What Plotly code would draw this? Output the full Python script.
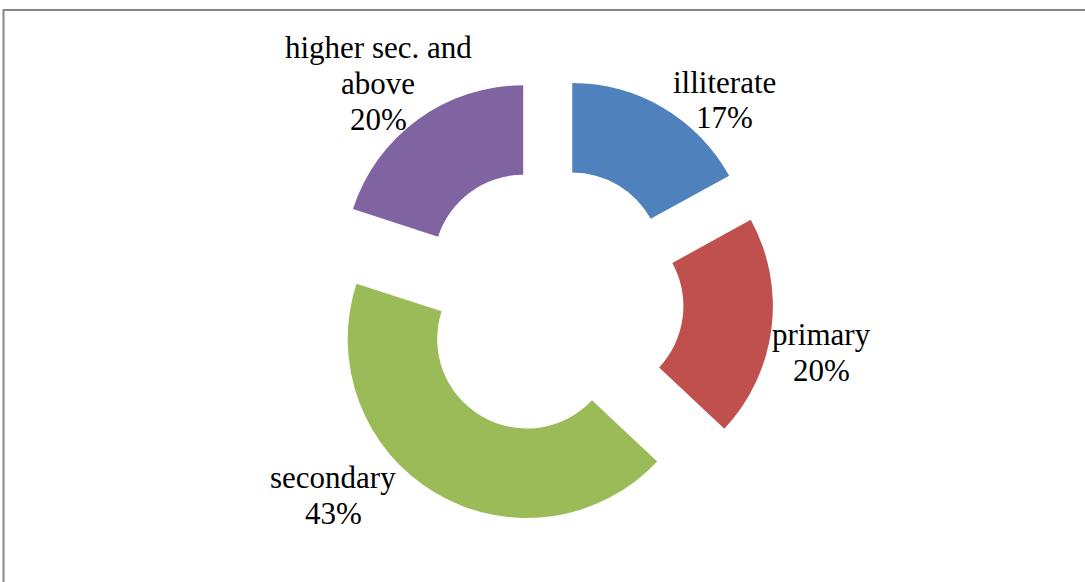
import textwrap
import plotly.graph_objects as go

# Education level shares (percent)
categories = ["illiterate", "primary", "secondary", "higher sec. and above"]
shares = [17, 20, 43, 20]
colors = ["#4F81BD", "#C0504D", "#9BBB59", "#8064A2"]

# Label placement in pixels: (centre x, first-line baseline y)
label_pos = [(724, 92), (821, 344), (333, 487), (378, 57)]

W, H = 1085, 582
LINE_STEP = 36
FONT = dict(family="Liberation Serif, Times New Roman, serif", size=31, color="#000000")

# Ring geometry in pixels
cx, cy = 549.5, 300.5
outer_r = 179
pull = 0.25
box_half = outer_r * (1 + pull)

fig = go.Figure(
    go.Pie(
        labels=categories,
        values=shares,
        hole=0.5,
        sort=False,
        direction="clockwise",
        rotation=0,
        pull=[pull] * len(shares),
        marker=dict(colors=colors, line=dict(width=0)),
        textinfo="none",
        hoverinfo="label+percent",
        domain=dict(
            x=[(cx - box_half) / W, (cx + box_half) / W],
            y=[(H - cy - box_half) / H, (H - cy + box_half) / H],
        ),
        showlegend=False,
    )
)

annotations = []
for name, val, (px, base) in zip(categories, shares, label_pos):
    lines = textwrap.wrap(name, width=15) + [f"{val}%"]
    for i, line in enumerate(lines):
        y_mid = base + i * LINE_STEP - 10
        annotations.append(
            dict(
                text=line,
                x=px / W,
                y=(H - y_mid) / H,
                xref="paper",
                yref="paper",
                xanchor="center",
                yanchor="middle",
                showarrow=False,
                font=FONT,
            )
        )

fig.update_layout(
    width=W,
    height=H,
    margin=dict(l=0, r=0, t=0, b=0),
    paper_bgcolor="#FFFFFF",
    plot_bgcolor="#FFFFFF",
    annotations=annotations,
    shapes=[
        dict(
            type="rect",
            xref="paper",
            yref="paper",
            x0=3.5 / W,
            x1=(W + 10) / W,
            y0=-10 / H,
            y1=(H - 10) / H,
            line=dict(color="#868686", width=2),
            fillcolor="rgba(0,0,0,0)",
            layer="below",
        )
    ],
)

fig.write_html("out.html")
